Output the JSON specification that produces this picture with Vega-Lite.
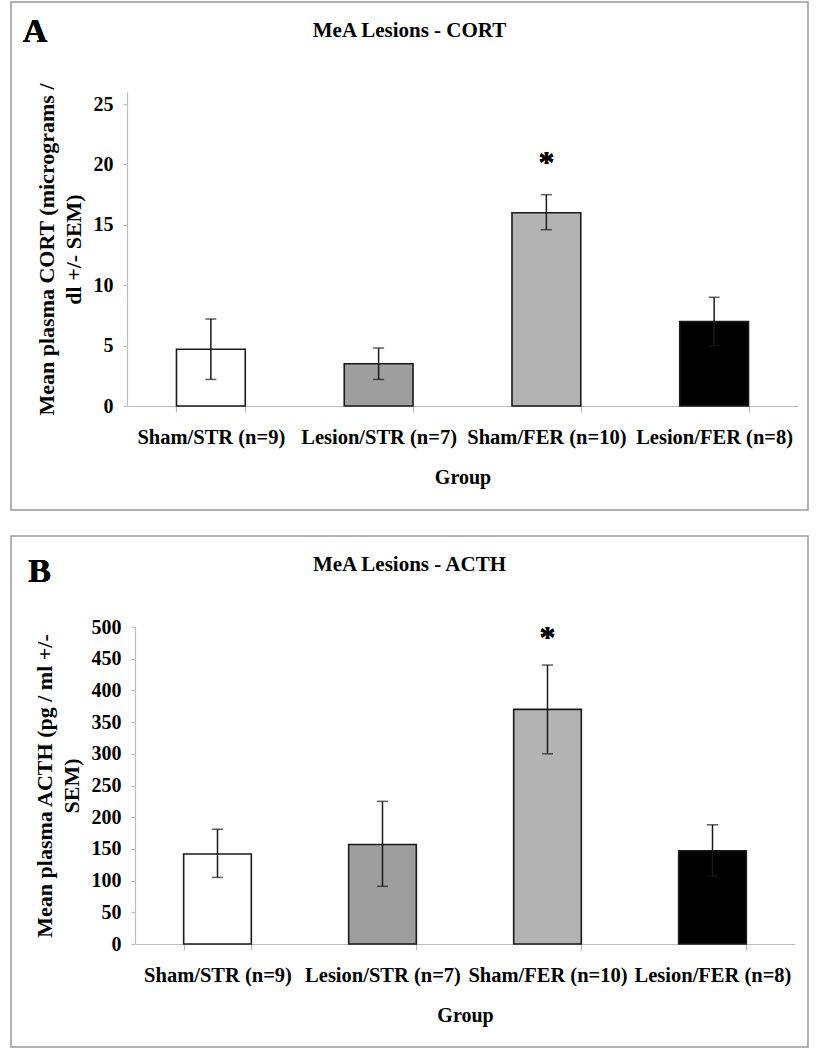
{
  "$schema": "https://vega.github.io/schema/vega-lite/v6.json",
  "background": "white",
  "padding": {"left": 10, "top": 1, "right": 11, "bottom": 4},
  "spacing": 24,
  "config": {
    "view": {"stroke": "#999999", "strokeWidth": 1.5},
    "font": "Liberation Serif",
    "axis": {
      "labelFont": "Liberation Serif", "titleFont": "Liberation Serif",
      "labelColor": "#000000", "titleColor": "#000000",
      "labelFontWeight": "bold", "titleFontWeight": "bold",
      "labelFontSize": 20, "titleFontSize": 20,
      "grid": false, "domainColor": "#bdbdbd", "tickColor": "#bdbdbd",
      "domainWidth": 1.2, "tickWidth": 1.2
    },
    "axisX": {"labelAngle": 0, "tickBand": "extent", "tickSize": 6, "labelPadding": 15, "titlePadding": 20, "labelFontSize": 20.5},
    "axisY": {"tickSize": 4, "labelPadding": 10, "titlePadding": 8, "titleLineHeight": 27, "titleFontSize": 22},
    "title": {"font": "Liberation Serif", "fontSize": 21, "fontWeight": "bold", "color": "#000000", "anchor": "middle", "offset": -39, "baseline": "middle"}
  },
  "datasets": {
    "cort": [
      {"group": "Sham/STR (n=9)", "mean": 4.7, "lower": 2.2, "upper": 7.2},
      {"group": "Lesion/STR (n=7)", "mean": 3.5, "lower": 2.2, "upper": 4.8},
      {"group": "Sham/FER (n=10)", "mean": 16.0, "lower": 14.6, "upper": 17.5},
      {"group": "Lesion/FER (n=8)", "mean": 7.0, "lower": 5.0, "upper": 9.0}
    ],
    "acth": [
      {"group": "Sham/STR (n=9)", "mean": 142, "lower": 105, "upper": 181},
      {"group": "Lesion/STR (n=7)", "mean": 157, "lower": 91, "upper": 225},
      {"group": "Sham/FER (n=10)", "mean": 370, "lower": 300, "upper": 440},
      {"group": "Lesion/FER (n=8)", "mean": 147, "lower": 107, "upper": 188}
    ]
  },
  "vconcat": [
    {
      "width": 797, "height": 508,
      "title": {"text": "MeA Lesions - CORT"},
      "data": {"name": "cort"},
      "layer": [
        {
          "layer": [
            {
              "mark": {"type": "bar", "stroke": "#1a1a1a", "strokeWidth": 1.6},
              "encoding": {
                "x": {"field": "group", "type": "nominal", "sort": null, "title": "Group",
                      "scale": {"range": [116, 787], "paddingInner": 0.59, "paddingOuter": 0.295},
                      "axis": {"offset": -104}},
                "y": {"field": "mean", "type": "quantitative",
                      "scale": {"domain": [0, 25], "range": [404, 90]},
                      "axis": {"values": [0, 5, 10, 15, 20, 25], "offset": -116,
                               "title": ["Mean plasma CORT (micrograms /", "dl +/- SEM)"]}},
                "fill": {"field": "group", "type": "nominal", "sort": null,
                         "scale": {"range": ["#ffffff", "#9e9e9e", "#b3b3b3", "#000000"]}, "legend": null}
              }
            },
            {
              "mark": {"type": "rule", "color": "#1a1a1a", "strokeWidth": 1.5},
              "encoding": {
                "x": {"field": "group", "type": "nominal", "sort": null},
                "y": {"field": "lower", "type": "quantitative"},
                "y2": {"field": "upper"}
              }
            },
            {
              "mark": {"type": "tick", "color": "#1a1a1a", "size": 11, "thickness": 1.5},
              "encoding": {
                "x": {"field": "group", "type": "nominal", "sort": null},
                "y": {"field": "lower", "type": "quantitative"}
              }
            },
            {
              "mark": {"type": "tick", "color": "#1a1a1a", "size": 11, "thickness": 1.5},
              "encoding": {
                "x": {"field": "group", "type": "nominal", "sort": null},
                "y": {"field": "upper", "type": "quantitative"}
              }
            },
            {
              "mark": {"type": "text", "text": "*", "fontSize": 32, "fontWeight": "bold", "baseline": "alphabetic", "align": "center", "font": "Liberation Serif"},
              "encoding": {
                "x": {"datum": "Sham/FER (n=10)"},
                "y": {"datum": 19.3}
              }
            }
          ]
        },
        {
          "mark": {"type": "text", "text": "A", "fontSize": 34, "fontWeight": "bold", "baseline": "middle", "align": "center", "font": "Liberation Serif"},
          "encoding": {
            "x": {"datum": 0.03, "type": "quantitative", "scale": {"domain": [0, 1]}, "axis": null},
            "y": {"datum": 0.941, "type": "quantitative", "scale": {"domain": [0, 1]}, "axis": null}
          }
        }
      ],
      "resolve": {"scale": {"x": "independent", "y": "independent"}, "axis": {"x": "independent", "y": "independent"}}
    },
    {
      "width": 797, "height": 511,
      "title": {"text": "MeA Lesions - ACTH"},
      "data": {"name": "acth"},
      "layer": [
        {
          "layer": [
            {
              "mark": {"type": "bar", "stroke": "#1a1a1a", "strokeWidth": 1.6},
              "encoding": {
                "x": {"field": "group", "type": "nominal", "sort": null, "title": "Group",
                      "scale": {"range": [124, 784], "paddingInner": 0.59, "paddingOuter": 0.295},
                      "axis": {"offset": -103}},
                "y": {"field": "mean", "type": "quantitative",
                      "scale": {"domain": [0, 500], "range": [408, 91]},
                      "axis": {"values": [0, 50, 100, 150, 200, 250, 300, 350, 400, 450, 500], "offset": -124,
                               "title": ["Mean plasma ACTH (pg / ml +/-", "SEM)"]}},
                "fill": {"field": "group", "type": "nominal", "sort": null,
                         "scale": {"range": ["#ffffff", "#9e9e9e", "#b3b3b3", "#000000"]}, "legend": null}
              }
            },
            {
              "mark": {"type": "rule", "color": "#1a1a1a", "strokeWidth": 1.5},
              "encoding": {
                "x": {"field": "group", "type": "nominal", "sort": null},
                "y": {"field": "lower", "type": "quantitative"},
                "y2": {"field": "upper"}
              }
            },
            {
              "mark": {"type": "tick", "color": "#1a1a1a", "size": 11, "thickness": 1.5},
              "encoding": {
                "x": {"field": "group", "type": "nominal", "sort": null},
                "y": {"field": "lower", "type": "quantitative"}
              }
            },
            {
              "mark": {"type": "tick", "color": "#1a1a1a", "size": 11, "thickness": 1.5},
              "encoding": {
                "x": {"field": "group", "type": "nominal", "sort": null},
                "y": {"field": "upper", "type": "quantitative"}
              }
            },
            {
              "mark": {"type": "text", "text": "*", "fontSize": 32, "fontWeight": "bold", "baseline": "alphabetic", "align": "center", "font": "Liberation Serif"},
              "encoding": {
                "x": {"datum": "Sham/FER (n=10)"},
                "y": {"datum": 467}
              }
            }
          ]
        },
        {
          "mark": {"type": "text", "text": "B", "fontSize": 34, "fontWeight": "bold", "baseline": "middle", "align": "center", "font": "Liberation Serif"},
          "encoding": {
            "x": {"datum": 0.036, "type": "quantitative", "scale": {"domain": [0, 1]}, "axis": null},
            "y": {"datum": 0.93, "type": "quantitative", "scale": {"domain": [0, 1]}, "axis": null}
          }
        }
      ],
      "resolve": {"scale": {"x": "independent", "y": "independent"}, "axis": {"x": "independent", "y": "independent"}}
    }
  ]
}
